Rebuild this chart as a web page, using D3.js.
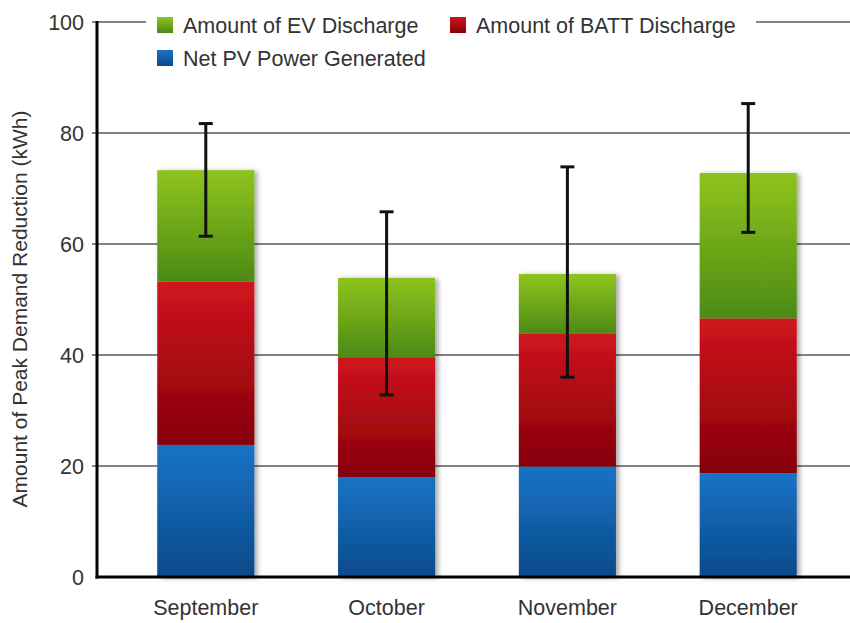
<!DOCTYPE html>
<head>
<meta charset="utf-8">
<title>Peak demand reduction</title>
<script src="https://d3js.org/d3.v7.min.js"></script>
<style>
	body { margin:0; background:#ffffff; }
	text { font-family:"Liberation Sans", Arial, Helvetica, sans-serif; fill:#333333; }
	.grid line { stroke:#5a5a5a; stroke-width:1.5; }
	.axisline { stroke:#000000; stroke-width:3; }
	.errbar { stroke:#111111; stroke-width:3; fill:none; }
</style>
</head>
<body>
<div class="chartContainer"></div>
<script>
// months on the x axis
var months = ["September", "October", "November", "December"];
// stacked series, bottom to top (kWh)
var pvGenerated = [23.8, 18.0, 19.9, 18.7];
var battDischarge = [29.4, 21.6, 24.0, 27.9];
var evDischarge = [20.1, 14.3, 10.7, 26.2];
// error bar ends
var errLow = [61.4, 32.8, 36.0, 62.1];
var errHigh = [81.7, 65.8, 73.9, 85.3];
var yTicks = [0, 20, 40, 60, 80, 100];

var seriesNames = ["Net PV Power Generated", "Amount of BATT Discharge", "Amount of EV Discharge"];
var seriesKeys = ["pv", "batt", "ev"];
var seriesColors = {
	pv:   ["#1873c6", "#0b4a8a"],
	batt: ["#d0141f", "#850007"],
	ev:   ["#8fc41f", "#4c8a12"]
};

var totalWidth = 850, totalHeight = 623;

var rows = months.map(function(m, i) {
	return { month:m, pv:pvGenerated[i], batt:battDischarge[i], ev:evDischarge[i] };
});

var svg = d3.select(".chartContainer").append("svg")
	.attr("width", totalWidth)
	.attr("height", totalHeight);

var defs = svg.append("defs");
seriesKeys.forEach(function(k) {
	var g = defs.append("linearGradient")
		.attr("id", "grad-" + k)
		.attr("x1", 0).attr("y1", 0).attr("x2", 0).attr("y2", 1);
	g.append("stop").attr("offset", "0%").attr("stop-color", seriesColors[k][0]);
	g.append("stop").attr("offset", "100%").attr("stop-color", seriesColors[k][1]);
});
var shadow = defs.append("filter").attr("id", "shadow")
	.attr("x", "-10%").attr("y", "-10%").attr("width", "130%").attr("height", "120%");
shadow.append("feDropShadow")
	.attr("dx", 3).attr("dy", 1).attr("stdDeviation", 2.5)
	.attr("flood-color", "#000").attr("flood-opacity", 0.35);

var x = d3.scaleBand()
	.domain(months)
	.range([103, 851])
	.paddingInner(0.463)
	.paddingOuter(0.3);

var y = d3.scaleLinear()
	.domain([0, 100])
	.range([577, 22]);

// gridlines
var grid = svg.append("g").attr("class", "grid");
grid.selectAll("line")
	.data(yTicks.filter(function(d) { return d > 0; }))
	.enter().append("line")
	.attr("x1", 92).attr("x2", 850)
	.attr("y1", function(d) { return y(d); })
	.attr("y2", function(d) { return y(d); });

// tick labels
svg.append("g").selectAll("text")
	.data(yTicks)
	.enter().append("text")
	.attr("x", 84)
	.attr("y", function(d) { return y(d); })
	.attr("dy", "0.36em")
	.attr("text-anchor", "end")
	.style("font-size", "21.5px")
	.text(function(d) { return d; });

// stacked bars
var stack = d3.stack().keys(seriesKeys);
var layers = stack(rows);

var barG = svg.append("g").attr("filter", "url(#shadow)");
barG.selectAll("g")
	.data(layers)
	.enter().append("g")
	.attr("fill", function(d) { return "url(#grad-" + d.key + ")"; })
	.selectAll("rect")
	.data(function(d) { return d; })
	.enter().append("rect")
	.attr("x", function(d) { return x(d.data.month); })
	.attr("width", x.bandwidth())
	.attr("y", function(d) { return y(d[1]); })
	.attr("height", function(d) { return y(d[0]) - y(d[1]); });

// error bars
var errG = svg.append("g").attr("class", "errbar");
months.forEach(function(m, i) {
	var cx = x(m) + x.bandwidth() / 2;
	errG.append("line").attr("x1", cx).attr("x2", cx).attr("y1", y(errLow[i])).attr("y2", y(errHigh[i]));
	errG.append("line").attr("x1", cx - 7).attr("x2", cx + 7).attr("y1", y(errLow[i])).attr("y2", y(errLow[i]));
	errG.append("line").attr("x1", cx - 7).attr("x2", cx + 7).attr("y1", y(errHigh[i])).attr("y2", y(errHigh[i]));
});

// axes
svg.append("line").attr("class", "axisline")
	.attr("x1", 97).attr("x2", 97).attr("y1", y(100) - 1).attr("y2", y(0) + 1.5);
svg.append("line").attr("class", "axisline")
	.attr("x1", 95.5).attr("x2", 850).attr("y1", y(0)).attr("y2", y(0));

// month labels
svg.append("g").selectAll("text")
	.data(months)
	.enter().append("text")
	.attr("x", function(d) { return x(d) + x.bandwidth() / 2; })
	.attr("y", 615)
	.attr("text-anchor", "middle")
	.style("font-size", "21.5px")
	.text(function(d) { return d; });

// y title
svg.append("text")
	.attr("transform", "translate(27,309) rotate(-90)")
	.attr("text-anchor", "middle")
	.style("font-size", "21px")
	.text("Amount of Peak Demand Reduction (kWh)");

// legend (white box breaks the top gridline)
var legend = svg.append("g");
legend.append("rect")
	.attr("x", 146).attr("y", 4).attr("width", 610).attr("height", 72)
	.attr("fill", "#ffffff");
var legendItems = [
	{ key:"ev", name:seriesNames[2], lx:157, ly:17 },
	{ key:"batt", name:seriesNames[1], lx:450, ly:17 },
	{ key:"pv", name:seriesNames[0], lx:157, ly:50 }
];
var li = legend.selectAll("g.item")
	.data(legendItems)
	.enter().append("g")
	.attr("class", "item")
	.attr("transform", function(d) { return "translate(" + d.lx + "," + d.ly + ")"; });
li.append("rect")
	.attr("width", 16).attr("height", 16)
	.attr("fill", function(d) { return "url(#grad-" + d.key + ")"; });
li.append("text")
	.attr("x", 26).attr("y", 8)
	.attr("dy", "0.36em")
	.style("font-size", "21.5px")
	.text(function(d) { return d.name; });
</script>
</body>
</html>
